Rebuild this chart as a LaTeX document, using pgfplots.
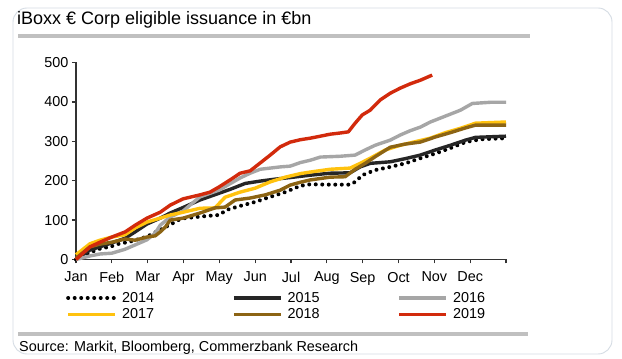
\documentclass[border=0pt]{standalone}
\usepackage{pgfplots}
\pgfplotsset{compat=1.18}
\usepackage{fontspec}
\setmainfont{Liberation Sans}
\definecolor{c14}{HTML}{000000}
\definecolor{c15}{HTML}{262626}
\definecolor{c16}{HTML}{A6A6A6}
\definecolor{c17}{HTML}{FFC20E}
\definecolor{c18}{HTML}{8C6414}
\definecolor{c19}{HTML}{D22A0C}
\definecolor{framec}{HTML}{D5DCE4}
\definecolor{rulec}{HTML}{C0C0C0}
\definecolor{axc}{HTML}{333333}
\begin{document}
\begin{tikzpicture}
\path[use as bounding box] (0bp,0bp) rectangle (622bp,359bp);
\fill[white] (0bp,0bp) rectangle (622bp,359bp);
\draw[color=framec, line width=0.9bp, rounded corners=14bp] (13bp,5bp) rectangle (612bp,351bp);
\node[anchor=base west, inner sep=0pt, font=\fontsize{18bp}{20bp}\selectfont] at (17bp,334bp) {iBoxx € Corp eligible issuance in €bn};
\draw[rulec, line width=3.5bp] (18bp,323bp) -- (530bp,323bp);
\draw[rulec, line width=3.5bp] (18bp,25bp) -- (528bp,25bp);
\node[anchor=base west, inner sep=0pt, font=\fontsize{14.4bp}{17bp}\selectfont] at (19bp,8bp) {Source: Markit, Bloomberg, Commerzbank Research};
\begin{axis}[
  at={(76bp,99.5bp)}, anchor=south west,
  scale only axis, width=430bp, height=197bp,
  xmin=0, xmax=12, ymin=0, ymax=500,
  axis x line*=bottom, axis y line*=left,
  axis line style={-, color=axc, line width=1.3bp},
  xtick={0,1,...,12},
  xticklabels={Jan,Feb,Mar,Apr,May,Jun,Jul,Aug,Sep,Oct,Nov,Dec,{}},
  ytick={0,100,...,500},
  tick align=outside, major tick length=4bp,
  tick style={color=axc, line width=1.3bp},
  ticklabel style={font=\fontsize{14.4bp}{17bp}\selectfont},
  xticklabel style={yshift=-5bp},
  /pgf/number format/assume math mode=true,
  clip=false,
  legend columns=3,
  legend cell align=left,
  legend image code/.code={\draw[#1] (0bp,0bp) -- (47bp,0bp);},
  legend style={at={(axis description cs:-0.0233,-0.165)}, anchor=north west,
    draw=none, fill=none, inner sep=0pt, row sep=5bp,
    font=\fontsize{14.4bp}{17bp}\selectfont,
    nodes={inner sep=0pt},
    /tikz/every odd column/.append style={column sep=5bp},
    /tikz/every even column/.append style={column sep=78bp}},
  every axis plot/.append style={line width=3.4bp, line join=round},
]
\addplot[c14, line width=4bp, line cap=round, dash pattern=on 0.01bp off 6.5bp] coordinates {
(0,0) (0.39,18) (0.72,29) (0.95,32) (1.15,39) (1.5,45) (1.98,58) (2.49,82) (2.7,92) (2.85,100) (3.04,105) (3.6,110) (3.99,113) (4.21,126) (4.58,136) (5.0,146) (5.42,159) (5.84,171) (6.26,187) (6.54,191) (7.0,190) (7.65,190) (7.79,197) (7.99,214) (8.35,227) (8.77,235) (9.19,244) (9.61,257) (10.03,269) (10.45,283) (10.87,298) (11.28,305) (12,308)};
\addlegendentry{2014}
\addplot[c15] coordinates {
(0,0) (0.39,24) (1.0,42) (1.37,54) (1.65,70) (1.98,90) (2.35,105) (2.63,118) (2.99,132) (3.46,151) (3.99,168) (4.3,178) (4.72,193) (5.14,199) (5.56,204) (5.98,208) (6.54,214) (7.09,219) (7.65,220) (7.93,235) (8.21,244) (8.77,248) (9.19,256) (9.61,265) (10.03,278) (10.45,290) (10.87,303) (11.15,310) (12,313)};
\addlegendentry{2015}
\addplot[c16] coordinates {
(0,0) (0.39,9) (0.67,14) (1.0,16) (1.37,26) (1.65,37) (1.98,50) (2.21,67) (2.35,87) (2.63,108) (2.99,123) (3.18,138) (3.46,159) (3.99,176) (4.58,207) (4.86,219) (5.14,229) (5.7,235) (5.98,237) (6.26,246) (6.54,252) (6.82,260) (7.37,262) (7.79,265) (8.07,278) (8.35,290) (8.77,303) (9.05,316) (9.33,327) (9.61,336) (9.89,349) (10.17,359) (10.73,379) (11.06,396) (11.56,399) (12,399)};
\addlegendentry{2016}
\addplot[c17] coordinates {
(0,12) (0.39,40) (0.67,49) (1.0,57) (1.37,63) (1.65,80) (1.98,95) (2.35,105) (2.63,113) (2.99,120) (3.46,130) (3.88,131) (4.16,158) (4.58,171) (5.0,181) (5.42,197) (5.84,209) (6.26,218) (6.54,222) (7.09,229) (7.65,232) (7.93,244) (8.21,257) (8.63,278) (9.05,290) (9.33,296) (9.89,308) (10.31,322) (10.73,333) (11.15,346) (12,349)};
\addlegendentry{2017}
\addplot[c18] coordinates {
(0,3) (0.39,32) (0.67,39) (1.0,44) (1.37,52) (1.65,49) (1.98,57) (2.21,60) (2.35,70) (2.49,82) (2.63,100) (2.99,105) (3.46,118) (3.88,131) (4.16,133) (4.44,151) (4.86,156) (5.28,164) (5.7,176) (5.98,189) (6.26,196) (6.54,202) (7.09,209) (7.51,210) (7.79,229) (8.07,244) (8.35,261) (8.77,285) (9.19,293) (9.61,298) (10.03,311) (10.45,322) (10.87,334) (11.15,341) (12,341)};
\addlegendentry{2018}
\addplot[c19] coordinates {
(0,0) (0.39,32) (0.67,44) (1.0,57) (1.37,70) (1.65,87) (1.98,105) (2.35,120) (2.63,138) (2.99,154) (3.46,164) (3.74,171) (3.99,184) (4.3,202) (4.58,219) (4.86,225) (5.14,245) (5.42,265) (5.7,286) (5.98,298) (6.26,304) (6.54,308) (6.82,313) (7.09,318) (7.37,321) (7.6,324) (7.79,346) (7.99,367) (8.21,379) (8.49,405) (8.77,422) (9.05,435) (9.33,446) (9.61,455) (9.94,468)};
\addlegendentry{2019}
\end{axis}
\end{tikzpicture}
\end{document}
